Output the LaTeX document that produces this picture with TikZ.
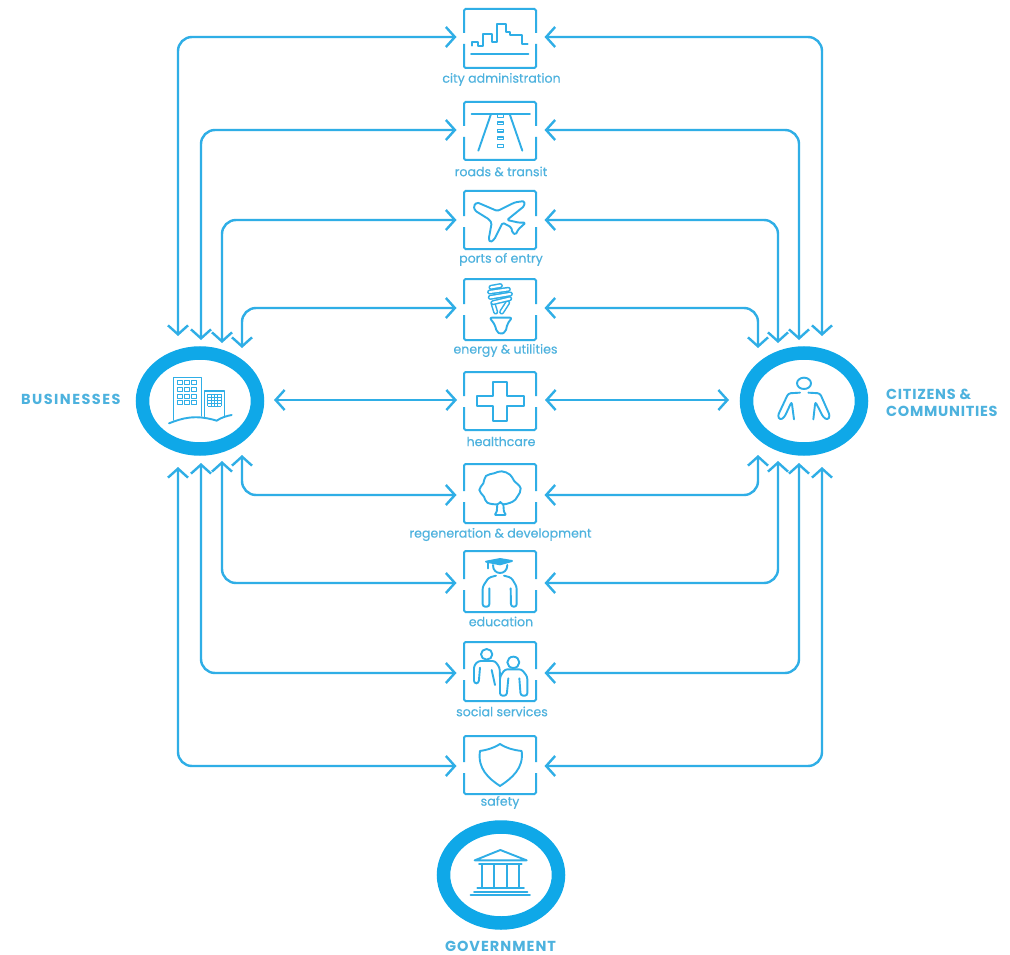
\documentclass[tikz,border=0pt]{standalone}
\usepackage{fontspec}
\setmainfont{Poppins}
\usetikzlibrary{arrows.meta,shapes.geometric}
\definecolor{cl}{HTML}{2FAEE6}
\definecolor{ringc}{HTML}{0FA8E8}
\definecolor{txt}{HTML}{4DB2DE}
\tikzset{
  link/.style={draw=cl,line width=2.4pt,rounded corners=14pt,{Straight Barb[length=9pt,width=20pt]}-{Straight Barb[length=9pt,width=20pt]}},
  hub/.style={minimum width=88pt,minimum height=30pt,inner sep=0pt,outer sep=0pt},
  boxframe/.style={draw=cl,line width=2pt,rounded corners=1.5pt},
  ic/.style={draw=cl,line width=1.9pt,line join=round,line cap=round},
  icthin/.style={draw=cl,line width=1pt,line join=round},
  band/.style={draw=cl,line width=1.5pt,double=white,double distance=2.1pt,line cap=round,line join=round},
  lab/.style={text=txt,font=\fontsize{12.6}{14}\selectfont\addfontfeature{FakeBold=0.25},inner sep=0pt},
  biglab/.style={text=txt,font=\fontsize{14.5}{17}\selectfont\bfseries,inner sep=0pt,align=left},
  ringn/.style={shape=ellipse,draw=ringc,line width=13.5pt,minimum width=115pt,minimum height=96pt,inner sep=0pt,outer sep=0pt},
  zf/.style={shift={#1},x=0.33333pt,y=-0.33333pt}
}
\newcommand{\iconframe}[3]{% top, bottom, arrow y
  \draw[boxframe] (464,#3-4) -- (464,#1) -- (536,#1) -- (536,#3-4);
  \draw[boxframe] (464,#3+7) -- (464,#2) -- (536,#2) -- (536,#3+7);
}
\begin{document}
\begin{tikzpicture}[x=1pt,y=-1pt]
\useasboundingbox (0,0) rectangle (1010,955);
\fill[white] (0,0) rectangle (1010,955);

% hubs
\node[hub] (city)   at (500.5,37)  {};
\node[hub] (roads)  at (500.5,130) {};
\node[hub] (ports)  at (500.5,220) {};
\node[hub] (energy) at (500.5,308) {};
\node[hub] (health) at (501,400) {};
\node[hub] (regen)  at (500.5,495) {};
\node[hub] (edu)    at (500.5,583) {};
\node[hub] (social) at (500.5,673) {};
\node[hub] (safety) at (500.5,766) {};

% frames
\iconframe{9}{68}{37}
\iconframe{102}{160}{130}
\iconframe{191}{249}{220}
\iconframe{279}{340}{308}
\iconframe{372}{430}{400}
\iconframe{464}{523}{495}
\iconframe{551}{612}{583}
\iconframe{642}{701}{673}
\iconframe{736}{794}{766}

% labels
\node[lab] (lcity)   at (501.5,79.5)  {city administration};
\node[lab] (lroads)  at (501,171.5) {roads \& transit};
\node[lab] (lports)  at (501,259.5) {ports of entry};
\node[lab] (lenergy) at (505.5,350.5) {energy \& utilities};
\node[lab] (lhealth) at (501,441.5) {healthcare};
\node[lab] (lregen)  at (500.5,534.5) {regeneration \& development};
\node[lab] (ledu)    at (501,621.5) {education};
\node[lab] (lsocial) at (502,711.5) {social services};
\node[lab] (lsafety) at (500,802.5) {safety};

% big rings
\node[ringn] (biz) at (200,401) {};
\node[ringn] (cit) at (804,401) {};
\node[ringn] (gov) at (501,875) {};
\node[biglab,anchor=west] (lbiz) at (21,399.5) {\addfontfeature{LetterSpace=10}BUSINESSES};
\node[biglab,anchor=west] (lcit) at (886,402.5) {\addfontfeature{LetterSpace=5}CITIZENS \&\\\addfontfeature{LetterSpace=5}COMMUNITIES};
\node[biglab] (lgov) at (500.5,946.5) {\addfontfeature{LetterSpace=7}GOVERNMENT};

% ring end points
\coordinate (bt1) at (178,336); \coordinate (bt2) at (201,340); \coordinate (bt3) at (222,343); \coordinate (bt4) at (242,348);
\coordinate (bb1) at (178,467); \coordinate (bb2) at (201,463); \coordinate (bb3) at (222,461); \coordinate (bb4) at (242,455);
\coordinate (ct1) at (822,336); \coordinate (ct2) at (799,340); \coordinate (ct3) at (778,343); \coordinate (ct4) at (758,348);
\coordinate (cb1) at (822,467); \coordinate (cb2) at (799,463); \coordinate (cb3) at (778,461); \coordinate (cb4) at (758,455);
\coordinate (be) at (274,400); \coordinate (ce) at (729,400);

% connectors
\draw[link] (bt1) |- (city.west);   \draw[link] (ct1) |- (city.east);
\draw[link] (bt2) |- (roads.west);  \draw[link] (ct2) |- (roads.east);
\draw[link] (bt3) |- (ports.west);  \draw[link] (ct3) |- (ports.east);
\draw[link] (bt4) |- (energy.west); \draw[link] (ct4) |- (energy.east);
\draw[link] (be) -- (health.west);  \draw[link] (ce) -- (health.east);
\draw[link] (bb4) |- (regen.west);  \draw[link] (cb4) |- (regen.east);
\draw[link] (bb3) |- (edu.west);    \draw[link] (cb3) |- (edu.east);
\draw[link] (bb2) |- (social.west); \draw[link] (cb2) |- (social.east);
\draw[link] (bb1) |- (safety.west); \draw[link] (cb1) |- (safety.east);

% city skyline
\begin{scope}[zf={(465,10)}]
\draw[ic] (20,107) -- (20,95) -- (40,95) -- (40,107) -- (55,107) -- (55,72) -- (82,72) -- (82,97) -- (97,97) -- (97,42) -- (122,42) -- (122,65) -- (135,65) -- (135,75) -- (170,75) -- (170,102) -- (188,102);
\draw[ic] (18,132) -- (190,132);
\end{scope}

% roads
\begin{scope}[zf={(400,0)}]
\draw[ic] (215,343) -- (390,343);
\draw[ic] (272,345) -- (235,452);
\draw[ic] (330,345) -- (367,452);
\foreach \yy in {348,370,392,415,438}
  \draw[ic,line width=1.5pt] (293,\yy-4) rectangle (311,\yy+4);
\end{scope}

% plane
\begin{scope}[zf={(465,192)}]
\draw[ic,rounded corners=1.5pt] (26,42) -- (36,31) -- (97,57) -- (150,31) -- (178,27) -- (178,42) -- (126,84) -- (162,92) -- (182,92) -- (160,112) -- (152,128) -- (142,122) -- (139,106) -- (113,92) -- (88,142) -- (76,151) -- (71,142) -- (80,93) -- (72,82) -- (30,56) -- cycle;
\end{scope}

% bulb
\begin{scope}[zf={(465,280)}]
\draw[band] (92,96) -- (84,70);
\draw[band] (110,96) -- (128,68);
\draw[band] (84,68) -- (134,56);
\draw[band] (76,52) -- (136,42);
\draw[band] (74,36) -- (130,28);
\draw[band] (78,22) -- (106,17);
\draw[ic,rounded corners=2pt] (74,113) -- (141,113) -- (127,132) -- (122,155) -- (108,163) -- (95,155) -- (90,135) -- cycle;
\end{scope}

% cross
\begin{scope}[zf={(400,270)}]
\draw[ic] (280,335) -- (322,335) -- (322,378) -- (373,378) -- (373,408) -- (322,408) -- (322,452) -- (280,452) -- (280,408) -- (230,408) -- (230,378) -- (280,378) -- cycle;
% tree
\draw[ic,rounded corners=1.5pt] (292,703) -- (290,728) -- (282,735) -- (320,735) -- (312,728) -- (310,703);
\draw[ic] plot[smooth cycle,tension=0.7] coordinates {(292,703) (262,698) (252,680) (238,660) (250,640) (258,618) (282,610) (305,604) (330,614) (342,632) (362,655) (352,680) (338,695) (310,703) (301,696)};
\end{scope}

\begin{scope}[zf={(400,545)}]
% education
\draw[ic] (258,50) -- (300,42) -- (336,48) -- (300,58) -- cycle;
\fill[cl] (258,50) -- (300,42) -- (336,48) -- (300,58) -- cycle;
\draw[ic] (263,55) -- (263,70);
\draw[ic] (279,60) .. controls (278,92) and (322,92) .. (322,60);
\draw[ic,rounded corners=2.5pt] (268,130) -- (268,185) -- (248,185) -- (248,125) -- (266,98) -- (288,92);
\draw[ic,rounded corners=2.5pt] (332,130) -- (333,185) -- (350,185) -- (350,125) -- (334,98) -- (312,92);
% social
\draw[ic] (260,328) circle[x radius=17,y radius=16];
\draw[ic,rounded corners=2.5pt] (240,368) -- (236,415) -- (222,415) -- (222,362) -- (235,348) -- (285,348) -- (299,368) -- (300,400);
\draw[ic] (340,352) circle[x radius=18,y radius=17];
\draw[ic,rounded corners=2.5pt] (325,400) -- (320,452) -- (300,452) -- (300,395) -- (315,373) -- (365,373) -- (382,395) -- (382,452) -- (362,452) -- (358,400);
\draw[ic] (275,375) -- (285,420);
% shield
\draw[ic] (300,597) .. controls (280,610) and (260,615) .. (240,618) .. controls (232,670) and (265,700) .. (300,723) .. controls (335,700) and (372,670) .. (365,618) .. controls (340,615) and (320,610) .. (300,597) -- cycle;
% temple
\draw[ic] (224,946) -- (301,915) -- (380,946) -- cycle;
\draw[ic] (237,956) -- (365,956);
\foreach \xx in {245,283,320,358} \draw[ic] (\xx,958) -- (\xx,1026);
\draw[ic] (232,1030) -- (372,1030);
\draw[ic] (222,1040) -- (382,1040);
\draw[ic] (212,1050) -- (390,1050);
\end{scope}

% buildings
\begin{scope}[zf={(120,290)}]
\draw[ic,line width=1.5pt] (160,390) -- (160,263) -- (245,263) -- (245,378);
\draw[ic,line width=1.5pt] (253,380) -- (253,303) -- (313,303) -- (313,380);
\foreach \yy in {272,293,314,332}
  \foreach \xx in {171,193,215}
    \draw[icthin] (\xx,\yy) rectangle ++(15,11);
\foreach \yy in {313,322,331,340,349}
  \draw[icthin] (263,\yy) -- (303,\yy);
\foreach \xx in {263,273,283,293,303}
  \draw[icthin] (\xx,313) -- (\xx,349);
\draw[ic] (147,400) .. controls (185,385) and (225,372) .. (290,392) .. controls (305,382) and (320,378) .. (335,375);
\end{scope}

% citizen
\begin{scope}[zf={(730,290)}]
\draw[ic] (222,280) circle[x radius=21,y radius=17];
\draw[ic,rounded corners=2.5pt] (210,308) -- (175,310) -- (143,378) -- (150,390) -- (163,382) -- (185,335) -- (192,388);
\draw[ic,rounded corners=2.5pt] (235,308) -- (270,310) -- (300,378) -- (293,390) -- (280,382) -- (256,335) -- (250,388);
\end{scope}
\end{tikzpicture}
\end{document}
